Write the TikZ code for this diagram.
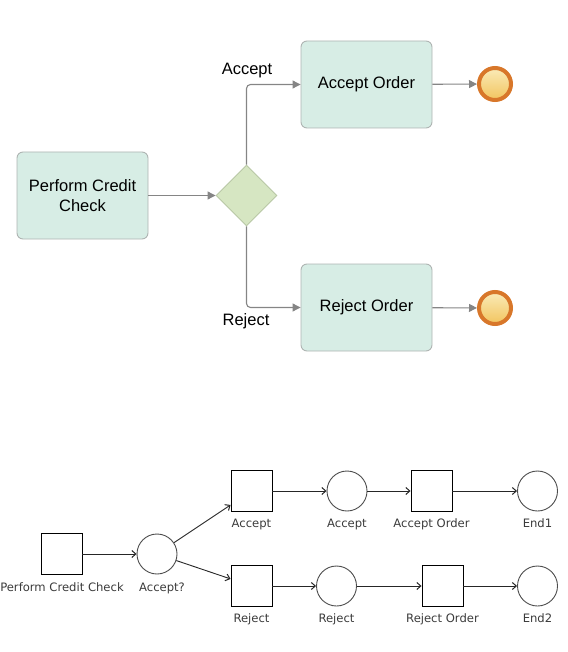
\documentclass[tikz,border=0pt]{standalone}
\usepackage{fontspec}
\setmainfont{Liberation Sans}
\newfontfamily\petrifont{DejaVu Sans}
\usetikzlibrary{shapes.geometric,arrows.meta}
\definecolor{taskfill}{HTML}{D7EDE5}
\definecolor{taskline}{HTML}{AEB4B2}
\definecolor{gatefill}{HTML}{D6E6C2}
\definecolor{gateline}{HTML}{B9C8A6}
\definecolor{flowline}{HTML}{858585}
\definecolor{endline}{HTML}{D8772A}
\definecolor{endtop}{HTML}{FAEBB8}
\definecolor{endbottom}{HTML}{F2C45E}
\definecolor{lbltext}{HTML}{3A3A3A}
\begin{document}
\begin{tikzpicture}[
  x=1pt, y=-1pt,
  task/.style={draw=taskline, fill=taskfill, rounded corners=6pt, line width=0.9pt, minimum width=131pt, minimum height=87pt, align=center, font=\fontsize{16.5}{20}\selectfont},
  gate/.style={diamond, draw=gateline, fill=gatefill, line width=0.9pt, minimum width=61pt, minimum height=61pt, inner sep=0pt},
  endev/.style={circle, draw=endline, line width=4pt, top color=endtop, bottom color=endbottom, minimum size=32pt, inner sep=0pt},
  flow/.style={draw=flowline, line width=1.1pt, rounded corners=4pt, -{Triangle[length=8pt,width=8pt]}},
  cond/.style={font=\fontsize{16.5}{20}\selectfont},
  trans/.style={draw, line width=0.9pt, minimum size=41pt, inner sep=0pt},
  place/.style={circle, draw=black!70, line width=0.9pt, minimum size=40pt, inner sep=0pt},
  arc/.style={draw=black!85, line width=0.9pt, -{Straight Barb[length=4pt,width=7pt,line width=1pt]}},
  lbl/.style={inner sep=0pt, text height=0.75em, text depth=0.25em, text=lbltext, font=\petrifont\fontsize{11.6}{13}\selectfont}
]
\useasboundingbox (0,0) rectangle (567,652);
% process model
\node[task] (check) at (82.5,195.5) {Perform Credit\\Check};
\node[gate] (gw) at (246.5,195.5) {};
\node[task] (accord) at (366.5,84.5) {Accept Order};
\node[task] (rejord) at (366.5,307.5) {Reject Order};
\node[endev] (end1) at (495,84) {};
\node[endev] (end2) at (495,308) {};
\node[cond] (lacc) at (247,71) {Accept};
\node[cond] (lrej) at (246,321) {Reject};
\draw[flow] (check) -- (gw);
\draw[flow] (gw.north) |- (accord);
\draw[flow] (gw.south) |- (rejord);
\draw[flow] (accord) -- (end1);
\draw[flow] (rejord) -- (end2);
% petri net
\node[trans] (tcheck) at (61.5,554) {};
\node[place] (pgw) at (157,554) {};
\node[trans] (tacc) at (251.5,491) {};
\node[trans] (trej) at (251.5,586) {};
\node[place] (pacc) at (347,491) {};
\node[place] (prej) at (336.5,586) {};
\node[trans] (taccord) at (431.5,491) {};
\node[trans] (trejord) at (442.5,586) {};
\node[place] (pend1) at (537.5,491) {};
\node[place] (pend2) at (537.5,586) {};
\node[lbl] (ltcheck) at (62,589) {Perform Credit Check};
\node[lbl] (lpgw) at (162,589) {Accept?};
\node[lbl] (ltacc) at (251.5,525) {Accept};
\node[lbl] (lpacc) at (347,525) {Accept};
\node[lbl] (ltaccord) at (431.5,525) {Accept Order};
\node[lbl] (lpend1) at (537.5,525) {End1};
\node[lbl] (ltrej) at (251.5,620) {Reject};
\node[lbl] (lprej) at (336.5,620) {Reject};
\node[lbl] (ltrejord) at (442.5,620) {Reject Order};
\node[lbl] (lpend2) at (537.5,620) {End2};
\draw[arc] (tcheck) -- (pgw);
\draw[arc] (pgw) -- (tacc);
\draw[arc] (pgw) -- (trej);
\draw[arc] (tacc) -- (pacc);
\draw[arc] (pacc) -- (taccord);
\draw[arc] (taccord) -- (pend1);
\draw[arc] (trej) -- (prej);
\draw[arc] (prej) -- (trejord);
\draw[arc] (trejord) -- (pend2);
\end{tikzpicture}
\end{document}
